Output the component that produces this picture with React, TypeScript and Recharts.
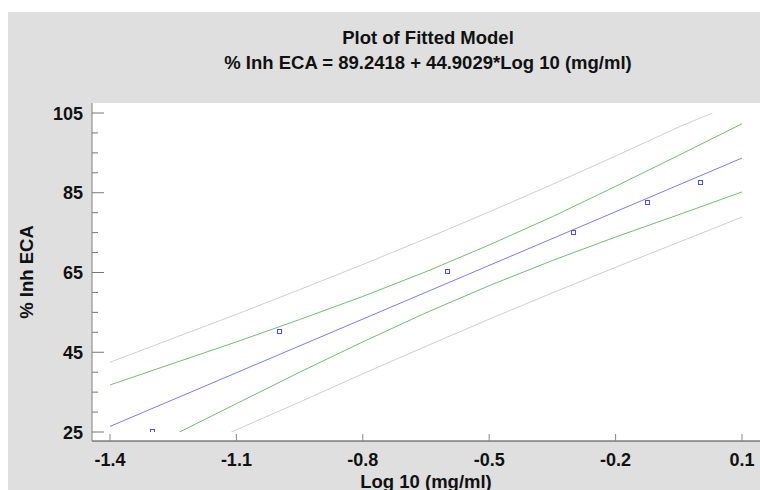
import React from 'react';
import { ComposedChart, Line, XAxis, YAxis, CartesianGrid } from 'recharts';

// ---- tick labels ----
const X_TICKS = [-1.4, -1.1, -0.8, -0.5, -0.2, 0.1];
const Y_TICKS = [25, 30, 35, 40, 45, 50, 55, 60, 65, 70, 75, 80, 85, 90, 95, 100, 105];
const Y_MAJOR = [25, 45, 65, 85, 105];

// ---- observed points ----
const OBS_X = [-1.3, -1.0, -0.6, -0.3, -0.125, 0.0];
const OBS_Y = [25.2, 50.4, 65.4, 75.2, 82.8, 87.6];

// ---- fitted line ----
const FIT_X = [-1.4, 0.1];
const FIT_Y = [26.4, 93.7];

// ---- confidence limits (green) ----
const UPPER_CONF_X = [-1.4, -1.25, -1.1, -0.95, -0.8, -0.65, -0.5, -0.35, -0.2, -0.05, 0.1];
const UPPER_CONF_Y = [36.8, 42.2, 47.6, 53.2, 59.0, 65.2, 71.9, 79.0, 86.6, 94.4, 102.3];
const LOWER_CONF_X = [-1.235, -1.1, -0.95, -0.8, -0.65, -0.5, -0.35, -0.2, -0.05, 0.1];
const LOWER_CONF_Y = [25.0, 32.1, 40.0, 47.6, 54.9, 61.7, 68.0, 73.9, 79.5, 85.2];

// ---- prediction limits (gray) ----
const UPPER_PRED_X = [-1.4, -1.25, -1.1, -0.95, -0.8, -0.65, -0.5, -0.35, -0.2, -0.05, 0.03];
const UPPER_PRED_Y = [42.5, 48.5, 54.5, 60.7, 67.0, 73.5, 80.2, 87.1, 94.2, 101.5, 105.0];
const LOWER_PRED_X = [-1.112, -0.95, -0.8, -0.65, -0.5, -0.35, -0.2, -0.05, 0.1];
const LOWER_PRED_Y = [25.0, 32.5, 39.6, 46.5, 53.3, 59.9, 66.3, 72.6, 78.9];

const TITLE_1 = 'Plot of Fitted Model';
const TITLE_2 = '% Inh ECA = 89.2418 + 44.9029*Log 10 (mg/ml)';
const X_LABEL = 'Log 10 (mg/ml)';
const Y_LABEL = '% Inh ECA';

const rows = (xs: number[], ys: number[]) => xs.map((x, i) => ({ x, y: ys[i] }));

const FONT = '"Liberation Sans", Arial, sans-serif';
const TEXT = '#111111';

const LeftTick = (p: any) => {
  const v = p.payload.value;
  const major = Y_MAJOR.includes(v);
  return (
    <g>
      <line x1={p.x} x2={p.x + (major ? 12 : 6)} y1={p.y} y2={p.y} stroke="#777" strokeWidth={1} />
      {major && (
        <text x={p.x - 9} y={p.y + 6.5} textAnchor="end" fontFamily={FONT} fontWeight="bold" fontSize={18} fill={TEXT}>
          {v}
        </text>
      )}
    </g>
  );
};

const RightTick = (p: any) => {
  const v = p.payload.value;
  const major = Y_MAJOR.includes(v);
  return <line x1={p.x} x2={p.x - (major ? 12 : 6)} y1={p.y} y2={p.y} stroke="#777" strokeWidth={1} />;
};

const BottomTick = (p: any) => {
  const v = p.payload.value;
  return (
    <g>
      <line x1={p.x} x2={p.x} y1={p.y} y2={p.y - 7} stroke="#888" strokeWidth={1} />
      <text x={p.x} y={p.y + 24.5} textAnchor="middle" fontFamily={FONT} fontWeight="bold" fontSize={18} fill={TEXT}>
        {v}
      </text>
    </g>
  );
};

const TopTick = (p: any) => (
  <line x1={p.x} x2={p.x} y1={p.y} y2={p.y + 7} stroke="#777" strokeWidth={1} />
);

const SquareDot = (p: any) => {
  if (p.cx == null || p.cy == null) return <g key={p.index} />;
  return (
    <rect
      key={p.index}
      x={Math.round(p.cx) - 1.5}
      y={Math.round(p.cy) - 1.5}
      width={4}
      height={4}
      fill="none"
      stroke="#4a4aff"
      strokeWidth={1}
    />
  );
};

export default function App() {
  return (
    <div
      style={{
        position: 'fixed',
        left: 8,
        top: 12,
        width: 752,
        height: 478,
        background: '#dfdfdf',
        overflow: 'hidden',
      }}
    >
      <ComposedChart width={760} height={478} margin={{ top: 91, right: 7, bottom: 0, left: 0 }}>
        <CartesianGrid fill="#ffffff" stroke="none" horizontal={false} vertical={false} />
        <XAxis
          type="number"
          dataKey="x"
          domain={[-1.4, 0.1]}
          ticks={X_TICKS}
          interval={0}
          allowDataOverflow
          padding={{ left: 18, right: 19 }}
          height={49}
          tickSize={0}
          tickMargin={0}
          tickLine={false}
          axisLine={{ stroke: '#404040', strokeWidth: 1 }}
          tick={BottomTick}
        />
        <XAxis
          xAxisId="top"
          orientation="top"
          type="number"
          dataKey="x"
          domain={[-1.4, 0.1]}
          ticks={X_TICKS}
          interval={0}
          allowDataOverflow
          padding={{ left: 18, right: 19 }}
          height={0}
          tickSize={0}
          tickMargin={0}
          tickLine={false}
          axisLine={{ stroke: '#999', strokeWidth: 1 }}
          tick={TopTick}
        />
        <YAxis
          type="number"
          domain={[25, 105]}
          ticks={Y_TICKS}
          interval={0}
          allowDataOverflow
          padding={{ top: 10, bottom: 9 }}
          width={84}
          tickSize={0}
          tickMargin={0}
          tickLine={false}
          axisLine={{ stroke: '#808080', strokeWidth: 1 }}
          tick={LeftTick}
        />
        <YAxis
          yAxisId="r"
          orientation="right"
          type="number"
          domain={[25, 105]}
          ticks={Y_TICKS}
          interval={0}
          allowDataOverflow
          padding={{ top: 10, bottom: 9 }}
          width={0}
          tickSize={0}
          tickMargin={0}
          tickLine={false}
          axisLine={false}
          tick={RightTick}
        />
        <Line data={rows(UPPER_PRED_X, UPPER_PRED_Y)} dataKey="y" type="linear" stroke="#cfcfcf" strokeWidth={1} dot={false} isAnimationActive={false} />
        <Line data={rows(LOWER_PRED_X, LOWER_PRED_Y)} dataKey="y" type="linear" stroke="#cfcfcf" strokeWidth={1} dot={false} isAnimationActive={false} />
        <Line data={rows(UPPER_CONF_X, UPPER_CONF_Y)} dataKey="y" type="linear" stroke="#6fbf6f" strokeWidth={1} dot={false} isAnimationActive={false} />
        <Line data={rows(LOWER_CONF_X, LOWER_CONF_Y)} dataKey="y" type="linear" stroke="#6fbf6f" strokeWidth={1} dot={false} isAnimationActive={false} />
        <Line data={rows(FIT_X, FIT_Y)} dataKey="y" type="linear" stroke="#7a7aff" strokeWidth={1} dot={false} isAnimationActive={false} />
        <Line data={rows(OBS_X, OBS_Y)} dataKey="y" type="linear" stroke="none" dot={SquareDot} activeDot={false} isAnimationActive={false} />
      </ComposedChart>
      <svg
        width={752}
        height={478}
        style={{ position: 'absolute', left: 0, top: 0, pointerEvents: 'none' }}
      >
        <text x={420} y={31.5} textAnchor="middle" fontFamily={FONT} fontWeight="bold" fontSize={18.5} fill={TEXT}>
          {TITLE_1}
        </text>
        <text x={420} y={56.5} textAnchor="middle" fontFamily={FONT} fontWeight="bold" fontSize={18.5} fill={TEXT}>
          {TITLE_2}
        </text>
        <text x={418} y={476} textAnchor="middle" fontFamily={FONT} fontWeight="bold" fontSize={18.5} fill={TEXT}>
          {X_LABEL}
        </text>
        <text
          x={25}
          y={260}
          transform="rotate(-90 25 260)"
          textAnchor="middle"
          fontFamily={FONT}
          fontWeight="bold"
          fontSize={18.5}
          fill={TEXT}
        >
          {Y_LABEL}
        </text>
      </svg>
    </div>
  );
}
